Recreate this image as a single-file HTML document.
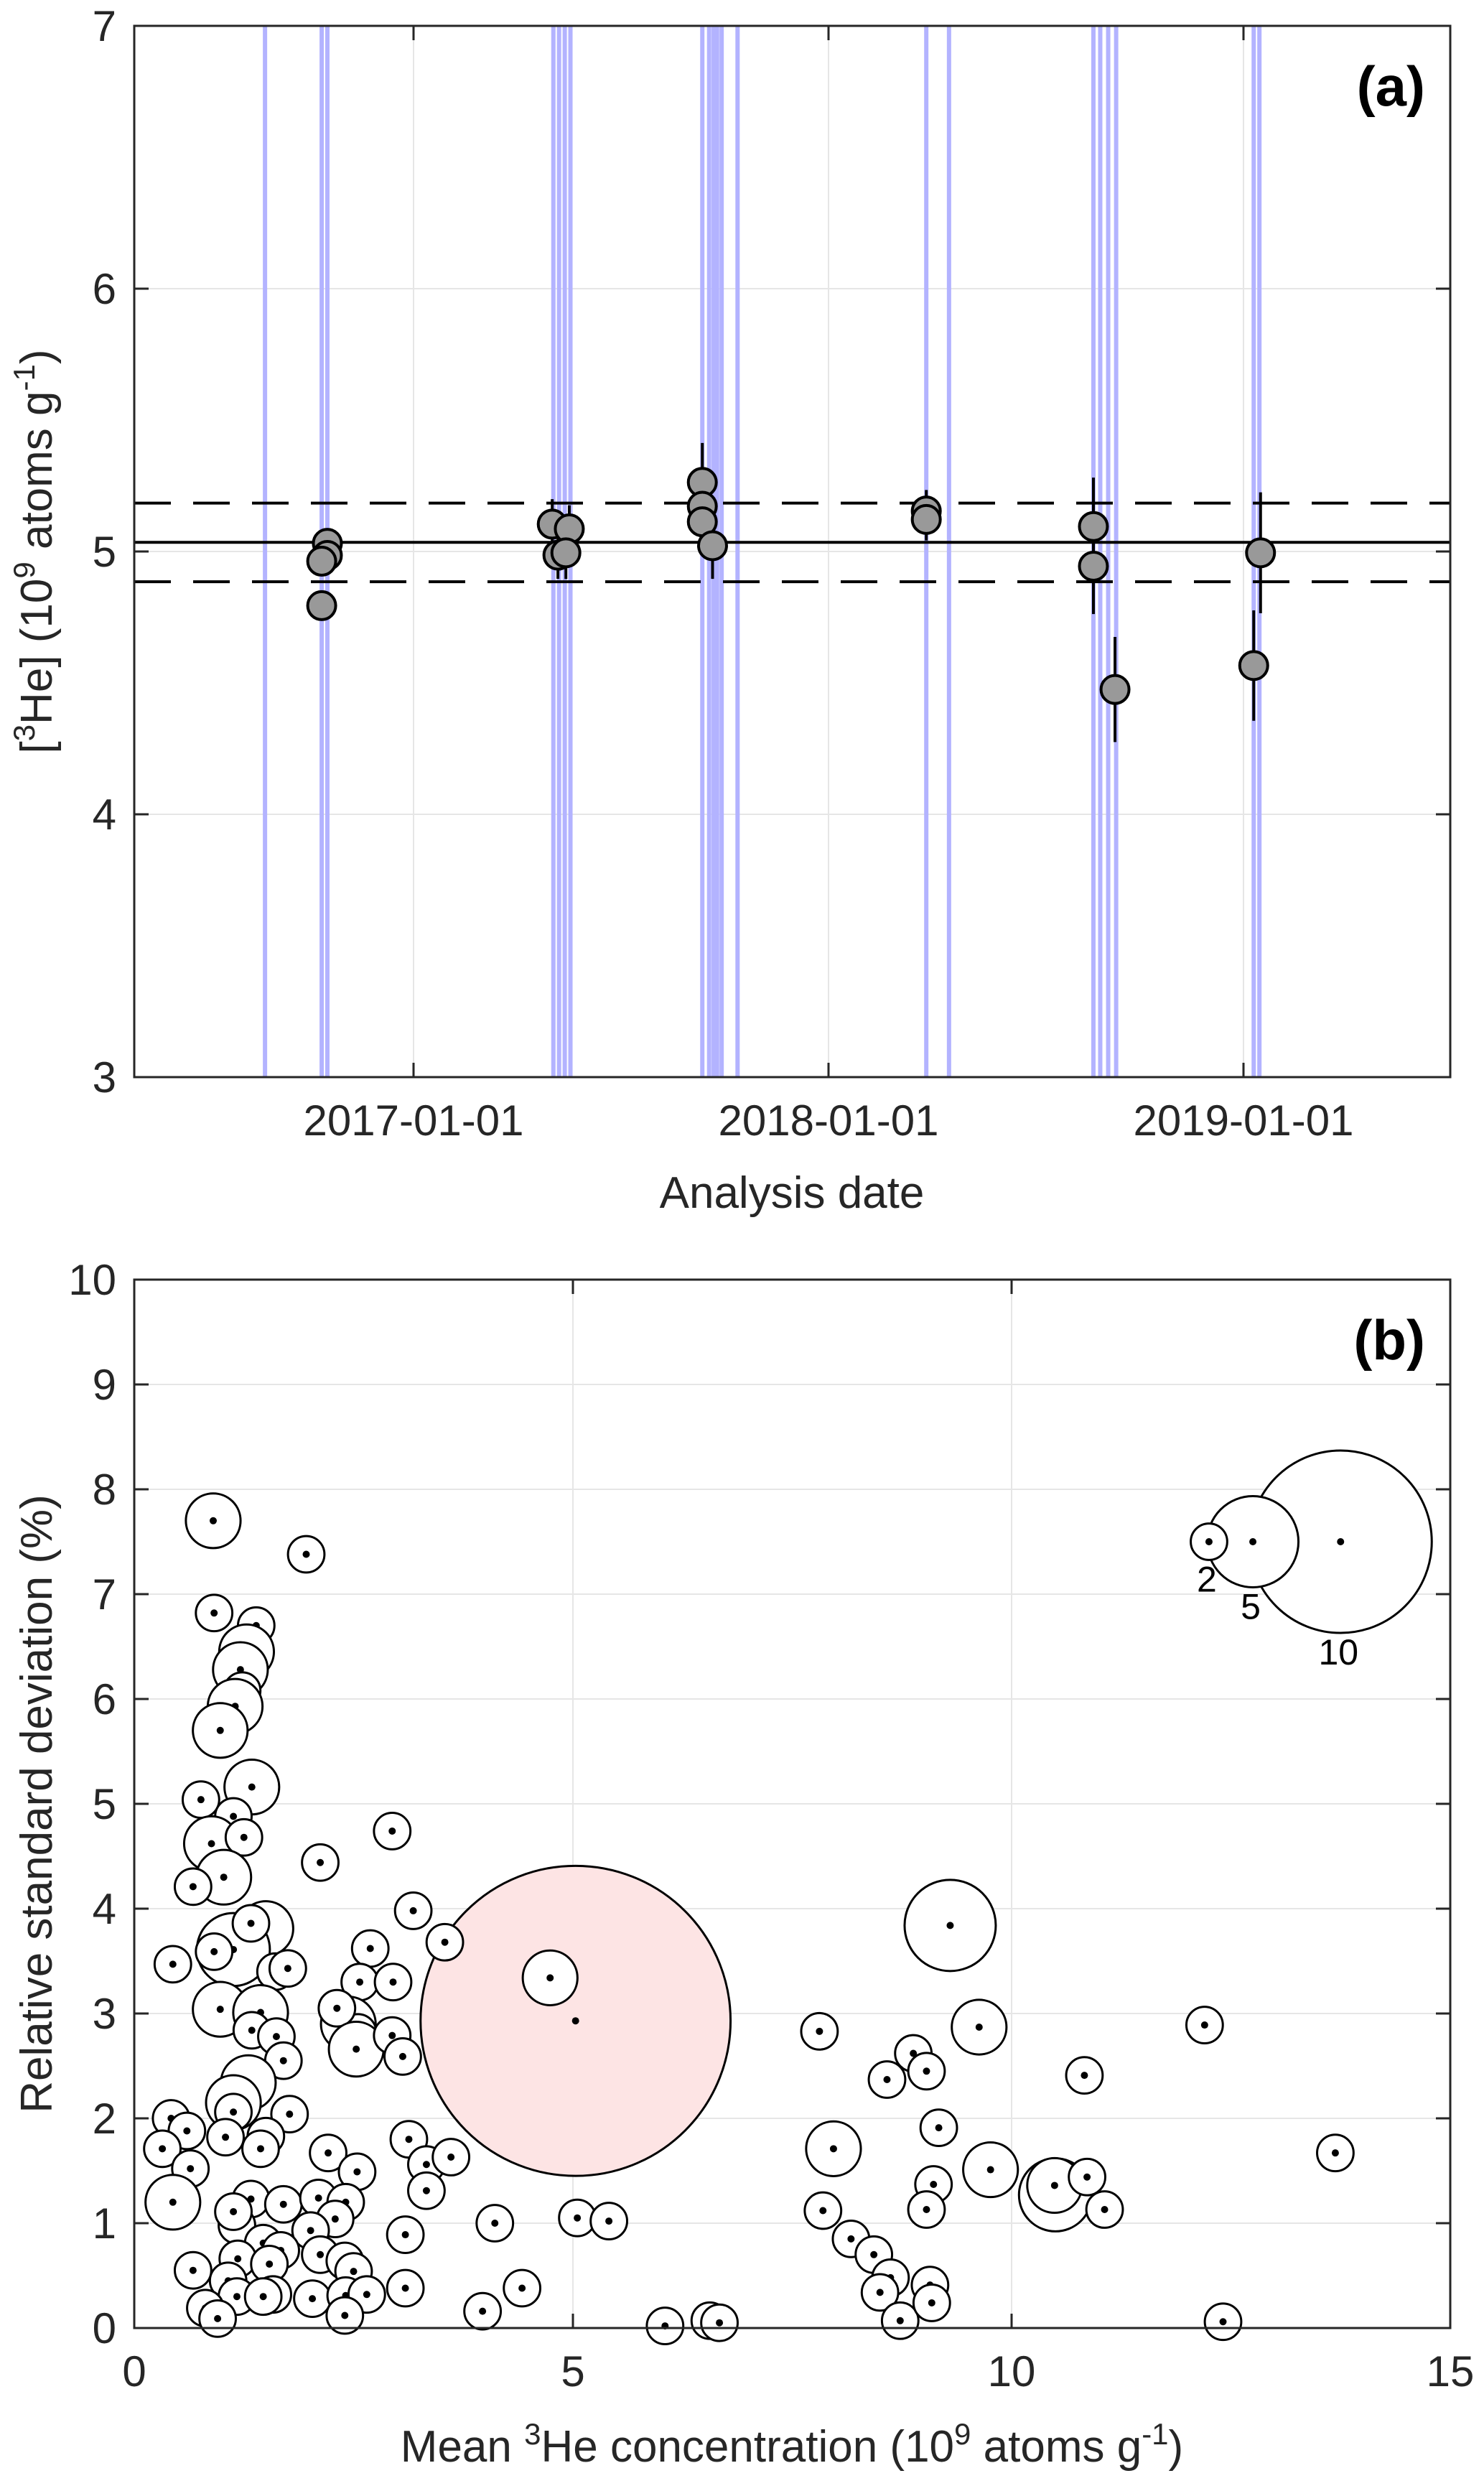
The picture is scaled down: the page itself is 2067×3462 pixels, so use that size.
<!DOCTYPE html>
<html><head><meta charset="utf-8"><style>
html,body{margin:0;padding:0;background:#fff}
svg{display:block}
text{font-family:"Liberation Sans",Arial,sans-serif;fill:#262626}
</style></head><body>
<svg id="fig" width="2067" height="3462" viewBox="0 0 2067 3462" xmlns="http://www.w3.org/2000/svg">
<g id="pa"></g>
<g id="pb"></g>
</svg>
<script>
// ---------- Panel (a) data ----------
const runDates = ["2016-08-23","2016-10-12","2016-10-17","2017-05-04","2017-05-09","2017-05-14","2017-05-19","2017-09-12","2017-09-18","2017-09-22","2017-09-25","2017-09-29","2017-10-13","2018-03-28","2018-04-17","2018-08-22","2018-08-28","2018-09-04","2018-09-11","2019-01-10","2019-01-15"];
const ptDates = ["2016-10-17","2016-10-17","2016-10-12","2016-10-12","2017-05-03","2017-05-18","2017-05-08","2017-05-15","2017-09-12","2017-09-12","2017-09-12","2017-09-21","2018-03-28","2018-03-28","2018-08-22","2018-08-22","2018-09-10","2019-01-10","2019-01-16"];
const ptValues = [5.031,4.985,4.963,4.794,5.104,5.086,4.986,4.995,5.263,5.172,5.113,5.022,5.154,5.122,5.095,4.944,4.475,4.566,4.995];
const ptErrors = [0.05,0.05,0.05,0.05,0.095,0.09,0.09,0.10,0.15,0.10,0.10,0.126,0.08,0.08,0.186,0.182,0.20,0.21,0.23];
const meanValue = 5.035;
const bandValues = [5.184,4.885];
const yTicksA = [3,4,5,6,7];
const xTickDatesA = ["2017-01-01","2018-01-01","2019-01-01"];

// ---------- Panel (b) data ----------
const bubX = [5.03,0.90,1.96,0.91,1.39,1.28,1.21,1.23,1.09,1.15,0.98,1.34,0.76,1.13,0.88,1.25,1.02,0.67,2.94,2.12,3.18,3.54,4.74,
1.50,1.13,1.33,0.91,0.44,1.61,1.75,2.69,2.57,2.95,0.98,1.44,1.34,1.62,1.70,1.30,1.13,1.13,1.77,0.42,0.60,0.32,1.04,1.50,1.44,0.64,0.44,
2.44,2.55,2.31,2.53,2.94,3.06,2.21,2.54,3.13,3.33,3.61,3.33,1.33,1.70,1.17,1.13,2.10,2.41,2.29,2.01,1.47,1.67,1.18,1.54,2.12,2.40,2.50,0.67,1.07,
3.09,4.11,5.05,5.41,3.09,4.42,3.97,1.17,1.58,1.47,2.03,2.41,2.65,0.81,0.95,2.40,
6.05,6.56,6.67,7.81,7.97,7.85,8.17,8.43,8.62,8.50,8.73,8.58,8.88,9.03,9.17,9.11,9.03,9.07,9.09,9.30,9.63,9.76,10.50,10.49,10.86,11.06,10.83,12.20,13.69,12.41];
const bubY = [2.93,7.70,7.38,6.82,6.70,6.45,6.28,6.08,5.92,5.93,5.70,5.16,5.04,4.88,4.62,4.68,4.30,4.21,4.74,4.44,3.98,3.68,3.34,
3.81,3.61,3.86,3.59,3.47,3.40,3.43,3.62,3.30,3.30,3.04,3.01,2.84,2.78,2.55,2.34,2.15,2.06,2.04,2.00,1.88,1.71,1.82,1.83,1.71,1.52,1.20,
2.90,2.82,3.05,2.66,2.79,2.59,1.67,1.49,1.80,1.56,1.63,1.31,1.23,1.18,0.98,1.11,1.24,1.20,1.04,0.93,0.81,0.74,0.66,0.61,0.70,0.64,0.54,0.55,0.45,
0.89,1.00,1.05,1.02,0.38,0.38,0.16,0.30,0.32,0.30,0.28,0.31,0.32,0.19,0.09,0.12,
0.02,0.07,0.05,2.83,1.71,1.12,0.85,0.70,0.48,0.34,0.07,2.37,2.62,2.45,1.91,1.37,1.13,0.41,0.24,3.84,2.87,1.51,1.27,1.36,1.44,1.13,2.41,2.89,1.67,0.06];
const bubN = [17,3,2,2,2,3,3,2,2,3,3,3,2,2,3,2,3,2,2,2,2,2,3,
3,4,2,2,2,2,2,2,2,2,3,3,2,2,2,3,3,2,2,2,2,2,2,2,2,2,3,
3,2,2,3,2,2,2,2,2,2,2,2,2,2,2,2,2,2,2,2,2,2,2,2,2,2,2,2,2,
2,2,2,2,2,2,2,2,2,2,2,2,2,2,2,2,
2,2,2,2,3,2,2,2,2,2,2,2,2,2,2,2,2,2,2,5,3,3,4,3,2,2,2,2,2,2];
const legendN = [2,5,10];
const legendX = [12.25,12.75,13.75];
const legendY = 7.5;
const xTicksB = [0,5,10,15];
const yTicksB = [0,1,2,3,4,5,6,7,8,9,10];

const NS = "http://www.w3.org/2000/svg";
function mk(parent, tag, attrs, name, txt){
  const e = document.createElementNS(NS, tag);
  for (const k in attrs) e.setAttribute(k, attrs[k]);
  
  
  if (txt !== undefined) e.textContent = txt;
  parent.appendChild(e);
  return e;
}
function decYear(s){
  const p = s.split('-').map(Number);
  const t = Date.UTC(p[0],p[1]-1,p[2]);
  const a = Date.UTC(p[0],0,1), b = Date.UTC(p[0]+1,0,1);
  return p[0] + (t-a)/(b-a);
}
const L = 187, R = 2020;
// Panel a axes
const aTop = 36, aBot = 1500;
const xA = d => 576 + (decYear(d) - 2017) * 578;
const yA = v => aTop + (7 - v) * 366;
const pa = document.getElementById('pa');
xTickDatesA.forEach(d => mk(pa,'line',{x1:xA(d),x2:xA(d),y1:aTop,y2:aBot,stroke:'#e6e6e6','stroke-width':2},'x-grid-line'));
yTicksA.forEach(v => mk(pa,'line',{x1:L,x2:R,y1:yA(v),y2:yA(v),stroke:'#e6e6e6','stroke-width':2},'y-grid-line'));
runDates.forEach(d => mk(pa,'line',{x1:xA(d),x2:xA(d),y1:aTop,y2:aBot,stroke:'#b3b3ff','stroke-width':6},'run-date-line'));
mk(pa,'line',{x1:L,x2:R,y1:yA(meanValue),y2:yA(meanValue),stroke:'#000','stroke-width':4},'mean-line');
bandValues.forEach(v => mk(pa,'line',{x1:L,x2:R,y1:yA(v),y2:yA(v),stroke:'#000','stroke-width':4,'stroke-dasharray':'51 31'},'std-dashed-line'));
ptDates.forEach((d,i) => mk(pa,'line',{x1:xA(d),x2:xA(d),y1:yA(ptValues[i]+ptErrors[i]),y2:yA(ptValues[i]-ptErrors[i]),stroke:'#000','stroke-width':4},'error-bar'));
ptDates.forEach((d,i) => mk(pa,'circle',{cx:xA(d),cy:yA(ptValues[i]),r:19.5,fill:'#999999',stroke:'#000','stroke-width':4},'measurement-point'));
mk(pa,'rect',{x:L,y:aTop,width:R-L,height:aBot-aTop,fill:'none',stroke:'#262626','stroke-width':3},'axes-a-box');
yTicksA.forEach(v => {
  mk(pa,'line',{x1:L,x2:L+20,y1:yA(v),y2:yA(v),stroke:'#262626','stroke-width':3},'y-tick');
  mk(pa,'line',{x1:R-20,x2:R,y1:yA(v),y2:yA(v),stroke:'#262626','stroke-width':3},'y-tick');
  mk(pa,'text',{x:162,y:yA(v)+21,'font-size':60,'text-anchor':'end'},'y-tick-label',String(v));
});
xTickDatesA.forEach(d => {
  mk(pa,'line',{x1:xA(d),x2:xA(d),y1:aBot,y2:aBot-20,stroke:'#262626','stroke-width':3},'x-tick');
  mk(pa,'line',{x1:xA(d),x2:xA(d),y1:aTop,y2:aTop+20,stroke:'#262626','stroke-width':3},'x-tick');
  mk(pa,'text',{x:xA(d),y:1581,'font-size':60,'text-anchor':'middle'},'x-tick-label',d);
});
mk(pa,'text',{x:1103,y:1682,'font-size':62,'text-anchor':'middle'},'x-axis-title','Analysis date');
const ta = mk(pa,'text',{x:0,y:0,'font-size':62,'text-anchor':'middle',transform:'translate(72,768) rotate(-90)'},'y-axis-title');
ta.innerHTML = '[<tspan dy="-24" font-size="42">3</tspan><tspan dy="24">He] (10</tspan><tspan dy="-24" font-size="42">9</tspan><tspan dy="24"> atoms g</tspan><tspan dy="-24" font-size="42">-1</tspan><tspan dy="24">)</tspan>';
mk(pa,'text',{x:1985,y:147,'font-size':78,'font-weight':'bold','text-anchor':'end',style:'fill:#000'},'panel-label-a','(a)');

// Panel b
const bTop = 1782, bBot = 3242;
const xB = v => L + v * 122.2;
const yB = v => bBot - v * 146;
const rB = n => n * 12.7;
const pb = document.getElementById('pb');
xTicksB.forEach(v => mk(pb,'line',{x1:xB(v),x2:xB(v),y1:bTop,y2:bBot,stroke:'#e6e6e6','stroke-width':2},'x-grid-line'));
yTicksB.forEach(v => mk(pb,'line',{x1:L,x2:R,y1:yB(v),y2:yB(v),stroke:'#e6e6e6','stroke-width':2},'y-grid-line'));
bubX.forEach((x,i) => {
  mk(pb,'circle',{cx:xB(x),cy:yB(bubY[i]),r:rB(bubN[i]),fill:(i===0?'#fde4e4':'#fff'),stroke:'#000','stroke-width':3},'sample-bubble');
  mk(pb,'circle',{cx:xB(x),cy:yB(bubY[i]),r:5,fill:'#000'},'sample-center-dot');
});
for (let i = legendN.length-1; i >= 0; i--) {
  mk(pb,'circle',{cx:xB(legendX[i]),cy:yB(legendY),r:rB(legendN[i]),fill:'#fff',stroke:'#000','stroke-width':3},'legend-bubble');
}
legendN.forEach((n,i) => {
  mk(pb,'circle',{cx:xB(legendX[i]),cy:yB(legendY),r:5,fill:'#000'},'legend-dot');
  mk(pb,'text',{x:xB(legendX[i])-3,y:yB(legendY)+rB(n)+44,'font-size':50,'text-anchor':'middle',style:'fill:#000'},'legend-label',String(n));
});
mk(pb,'rect',{x:L,y:bTop,width:R-L,height:bBot-bTop,fill:'none',stroke:'#262626','stroke-width':3},'axes-b-box');
yTicksB.forEach(v => {
  mk(pb,'line',{x1:L,x2:L+20,y1:yB(v),y2:yB(v),stroke:'#262626','stroke-width':3},'y-tick');
  mk(pb,'line',{x1:R-20,x2:R,y1:yB(v),y2:yB(v),stroke:'#262626','stroke-width':3},'y-tick');
  mk(pb,'text',{x:162,y:yB(v)+21,'font-size':60,'text-anchor':'end'},'y-tick-label',String(v));
});
xTicksB.forEach(v => {
  mk(pb,'line',{x1:xB(v),x2:xB(v),y1:bBot,y2:bBot-20,stroke:'#262626','stroke-width':3},'x-tick');
  mk(pb,'line',{x1:xB(v),x2:xB(v),y1:bTop,y2:bTop+20,stroke:'#262626','stroke-width':3},'x-tick');
  mk(pb,'text',{x:xB(v),y:3323,'font-size':60,'text-anchor':'middle'},'x-tick-label',String(v));
});
const tb = mk(pb,'text',{x:1103,y:3428,'font-size':62,'text-anchor':'middle'},'x-axis-title');
tb.innerHTML = 'Mean <tspan dy="-24" font-size="42">3</tspan><tspan dy="24">He concentration (10</tspan><tspan dy="-24" font-size="42">9</tspan><tspan dy="24"> atoms g</tspan><tspan dy="-24" font-size="42">-1</tspan><tspan dy="24">)</tspan>';
mk(pb,'text',{x:0,y:0,'font-size':62,'text-anchor':'middle',transform:'translate(72,2512) rotate(-90)'},'y-axis-title','Relative standard deviation (%)');
mk(pb,'text',{x:1985,y:1893,'font-size':78,'font-weight':'bold','text-anchor':'end',style:'fill:#000'},'panel-label-b','(b)');
</script>
</body></html>
